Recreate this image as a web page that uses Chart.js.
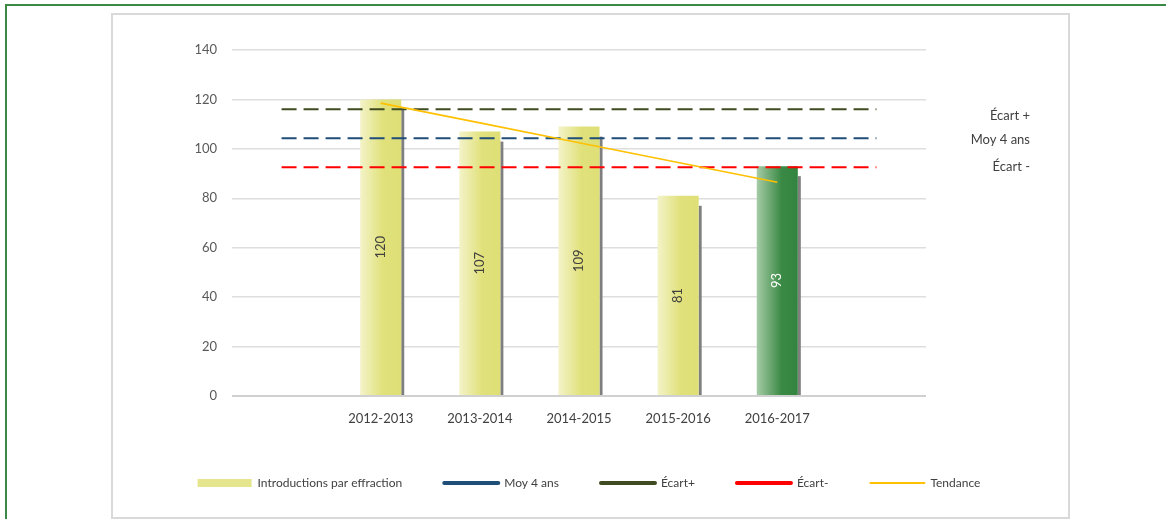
<!DOCTYPE html>
<html>
<head>
<meta charset="utf-8">
<script src="https://cdn.jsdelivr.net/npm/chart.js@4"></script>
<style>
  body { margin: 0; background: #fff; }
  #frame { position: absolute; left: 5px; top: 4px; width: 1300px; height: 700px;
           border-left: 2px solid #3a8a45; border-top: 2px solid #3a8a45; }
  #box { position: absolute; left: 111px; top: 13px; width: 955px; height: 502px;
         border: 2px solid #d9d9d9; background: #fff; }
  #chart { display: block; }
</style>
</head>
<body>
<div id="frame"></div>
<div id="box"><canvas id="chart" width="955" height="502"></canvas></div>
<script>
// categories (first and last slots are empty in the original)
const categories = ['', '2012-2013', '2013-2014', '2014-2015', '2015-2016', '2016-2017', ''];
const introductions = [null, 120, 107, 109, 81, 93, null];
const moy4ans = [104.3, 104.3, 104.3, 104.3, 104.3, 104.3, 104.3];
const ecartPlus = [116, 116, 116, 116, 116, 116, 116];
const ecartMoins = [92.6, 92.6, 92.6, 92.6, 92.6, 92.6, 92.6];
const tendance = [null, 118.5, 110.5, 102.5, 94.5, 86.5, null];
const yTicks = [0, 20, 40, 60, 80, 100, 120, 140];
const highlightIndex = 5;

const FONT = "Lato, 'Open Sans', sans-serif";
const BAR_PCT = 0.414;

function barFill(c) {
  const chart = c.chart;
  const area = chart.chartArea;
  const green = c.dataIndex === highlightIndex;
  if (!area) return green ? '#358540' : '#e0e07a';
  const x = chart.scales.x.getPixelForValue(c.dataIndex);
  const half = area.width / categories.length * BAR_PCT / 2;
  const g = chart.ctx.createLinearGradient(x - half, 0, x + half, 0);
  if (green) {
    g.addColorStop(0, '#a6cba6');
    g.addColorStop(0.6, '#3a8a45');
    g.addColorStop(1, '#33843f');
  } else {
    g.addColorStop(0, '#f3f3c9');
    g.addColorStop(0.55, '#e1e17c');
    g.addColorStop(1, '#dfdf77');
  }
  return g;
}

// grey shadow strip on the right of each bar
const barShadow = {
  id: 'barShadow',
  beforeDatasetsDraw(chart) {
    const meta = chart.getDatasetMeta(0);
    const ctx = chart.ctx;
    ctx.save();
    ctx.fillStyle = '#7f7f7f';
    meta.data.forEach((el, i) => {
      if (introductions[i] == null) return;
      ctx.fillRect(el.x + el.width / 2, el.y + 10, 3, el.base - el.y - 10);
    });
    ctx.restore();
  },
  afterDatasetsDraw(chart) {
    // rotated value labels inside bars
    const meta = chart.getDatasetMeta(0);
    const ctx = chart.ctx;
    ctx.save();
    ctx.font = '13px ' + FONT;
    ctx.textAlign = 'center';
    ctx.textBaseline = 'middle';
    meta.data.forEach((el, i) => {
      if (introductions[i] == null) return;
      ctx.save();
      ctx.translate(el.x, (el.y + el.base) / 2);
      ctx.rotate(-Math.PI / 2);
      ctx.fillStyle = i === highlightIndex ? '#ffffff' : '#404040';
      ctx.fillText(String(introductions[i]), 0, 0);
      ctx.restore();
    });
    ctx.restore();
  },
  afterLayout(chart) {
    // legend sits a little right of the plot centre
    const l = chart.legend, a = chart.chartArea;
    const shift = (a.left + a.right) / 2 + 10 - (l.left + l.right) / 2;
    l.left += shift;
    l.right += shift;
  },
  afterDraw(chart) {
    // labels for the reference lines on the right
    const y = chart.scales.y;
    const ctx = chart.ctx;
    ctx.save();
    ctx.font = '13px ' + FONT;
    ctx.fillStyle = '#404040';
    ctx.textAlign = 'right';
    ctx.textBaseline = 'middle';
    ctx.fillText('Écart +', 917, y.getPixelForValue(ecartPlus[0]) + 6);
    ctx.fillText('Moy 4 ans', 917, y.getPixelForValue(moy4ans[0]) + 2);
    ctx.fillText('Écart -', 917, y.getPixelForValue(ecartMoins[0]));
    ctx.restore();
  }
};

const dashed = (label, data, color) => ({
  type: 'line', label, data,
  borderColor: color, backgroundColor: color,
  borderWidth: 2, borderDash: [15, 7],
  pointRadius: 0, fill: false, order: 1,
});

new Chart(document.getElementById('chart'), {
  data: {
    labels: categories,
    datasets: [
      {
        type: 'bar', label: 'Introductions par effraction', data: introductions,
        backgroundColor: barFill, borderWidth: 0,
        categoryPercentage: 1, barPercentage: BAR_PCT, order: 10,
      },
      dashed('Moy 4 ans', moy4ans, '#1f4e79'),
      dashed('Écart+', ecartPlus, '#3f4b20'),
      dashed('Écart-', ecartMoins, '#ff0000'),
      {
        type: 'line', label: 'Tendance', data: tendance,
        borderColor: '#ffc000', backgroundColor: '#ffc000',
        borderWidth: 1.6, pointRadius: 0, fill: false, order: 0,
      },
    ],
  },
  options: {
    responsive: false,
    animation: false,
    devicePixelRatio: 1,
    layout: { padding: { top: 35, right: 0, left: 0, bottom: 18 } },
    plugins: {
      tooltip: { enabled: false },
      legend: {
        position: 'bottom',
        labels: {
          usePointStyle: true,
          pointStyleWidth: 54,
          boxHeight: 8,
          padding: 42,
          color: '#404040',
          font: { family: FONT, size: 12 },
          sort: (a, b) => a.datasetIndex - b.datasetIndex,
          generateLabels(chart) {
            const items = Chart.defaults.plugins.legend.labels.generateLabels(chart);
            return items.map(it => {
              if (it.datasetIndex === 0) {
                return { ...it, pointStyle: 'rect', fillStyle: '#e5e58e', strokeStyle: 'rgba(0,0,0,0)', lineWidth: 0 };
              }
              const ds = chart.data.datasets[it.datasetIndex];
              return { ...it, pointStyle: 'line', lineDash: [], lineCap: 'round',
                       strokeStyle: ds.borderColor, lineWidth: it.text === 'Tendance' ? 2 : 4 };
            });
          },
        },
      },
    },
    scales: {
      x: {
        grid: { display: false, drawTicks: false },
        border: { display: false },
        ticks: { color: '#404040', font: { family: FONT, size: 13 }, padding: 15 },
        afterFit: s => { s.height = 39; },
      },
      y: {
        min: 0, max: 140,
        afterBuildTicks: s => { s.ticks = yTicks.map(v => ({ value: v })); },
        grid: {
          drawTicks: false,
          color: c => c.tick && c.tick.value === 0 ? '#d0d0d0' : '#dedede',
          lineWidth: c => c.tick && c.tick.value === 0 ? 2 : 1.5,
        },
        border: { display: false },
        ticks: { color: '#595959', font: { family: FONT, size: 13 }, padding: 15 },
        afterFit: s => { s.width = 119; },
      },
      // empty right-hand gutter that holds the line captions
      side: {
        position: 'right',
        grid: { display: false, drawTicks: false },
        border: { display: false },
        ticks: { display: false },
        afterFit: s => { s.width = 142; },
      },
    },
  },
  plugins: [barShadow],
});
</script>
</body>
</html>
